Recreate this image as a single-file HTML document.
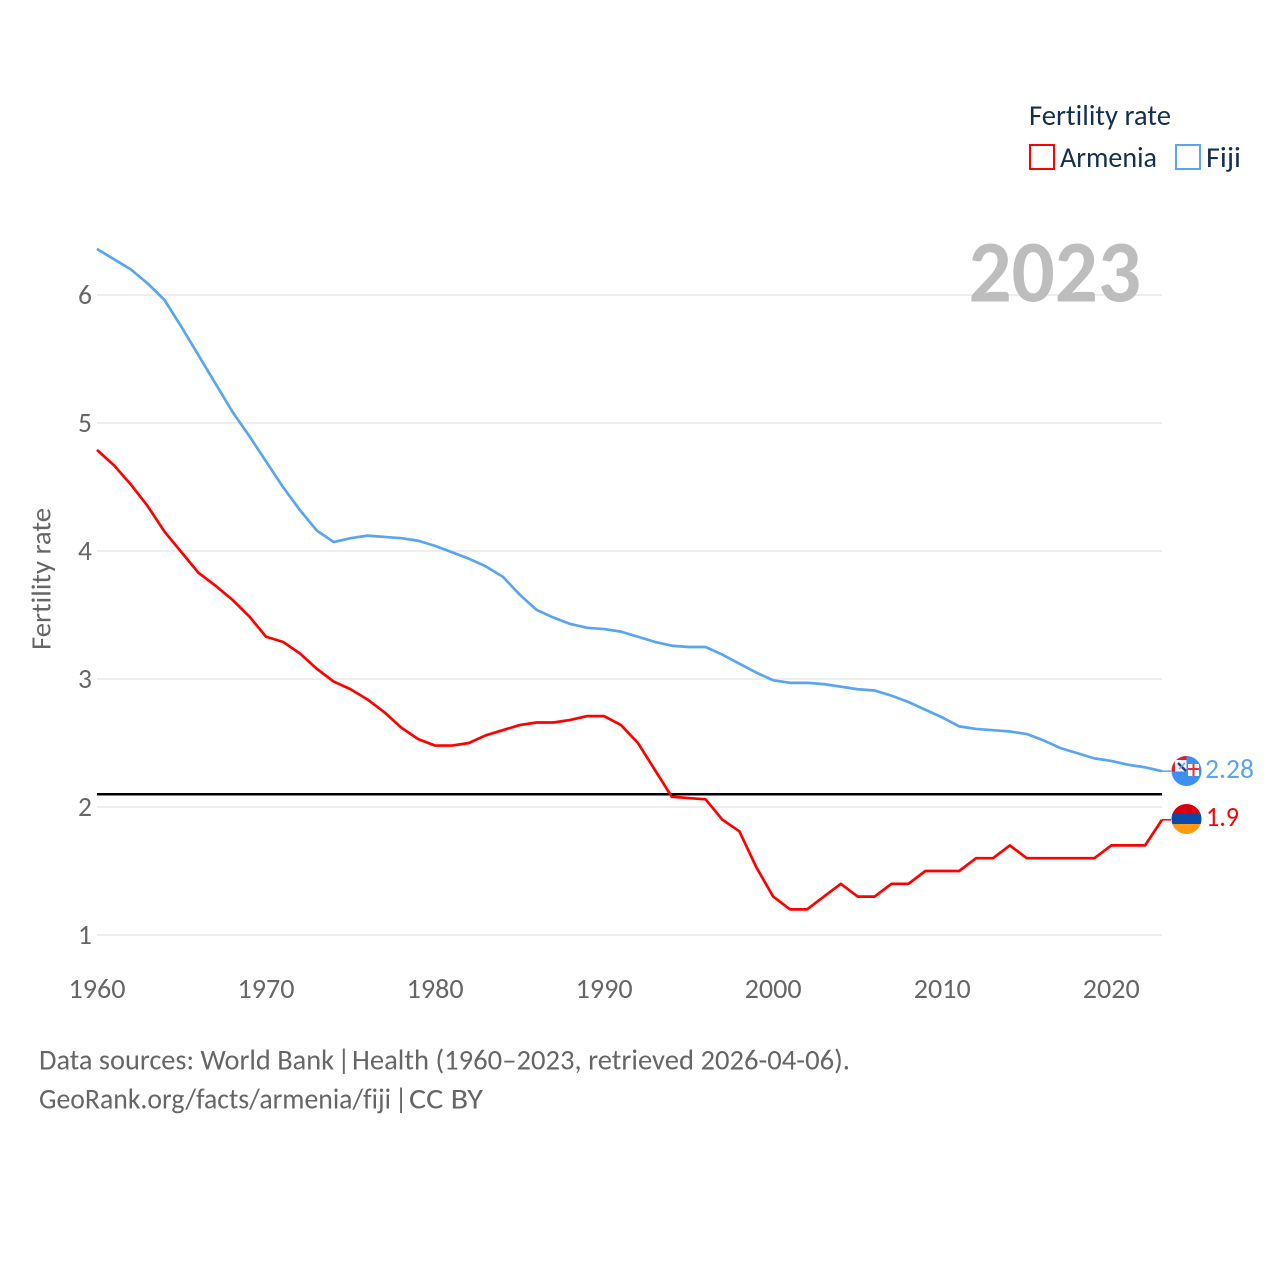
<!DOCTYPE html>
<html lang="en">
<head>
<meta charset="utf-8">
<title>Fertility rate: Armenia and Fiji</title>
<style>
html,body{margin:0;padding:0;background:#fff;width:1280px;height:1280px;overflow:hidden}
svg{display:block}
text{font-family:"Carlito","Liberation Sans",sans-serif;font-variant-ligatures:none}
</style>
</head>
<body>
<svg id="chart" xmlns="http://www.w3.org/2000/svg" width="1280" height="1280" viewBox="0 0 1280 1280">
  <rect width="1280" height="1280" fill="#fff"/>
  <g id="grid"></g>
  <text x="968.500" y="301.500" font-size="88" font-weight="700" fill="#bdbdbd" textLength="172.500" lengthAdjust="spacingAndGlyphs">2023</text>
  <g id="yticks"></g>
  <g id="xticks"></g>
  <text transform="translate(50.500,650) rotate(-90)" font-size="28" fill="#666" textLength="142" lengthAdjust="spacingAndGlyphs">Fertility rate</text>
  <g id="series"></g>

  <g>
    <text x="1029" y="125" font-size="28.500" fill="#15304f" textLength="142" lengthAdjust="spacingAndGlyphs">Fertility rate</text>
    <g>
      <rect x="1030" y="145" width="24" height="24" fill="#fff" stroke="#ff0000" stroke-width="2"/>
      <text x="1060" y="167" font-size="28.500" fill="#15304f" textLength="97" lengthAdjust="spacingAndGlyphs">Armenia</text>
    </g>
    <g>
      <rect x="1176" y="145" width="24" height="24" fill="#fff" stroke="#5aa5f0" stroke-width="2"/>
      <text x="1206" y="167" font-size="28.500" fill="#15304f" textLength="35" lengthAdjust="spacingAndGlyphs">Fiji</text>
    </g>
  </g>

  <defs>
    <clipPath id="fiji-clip"><circle cx="1186.5" cy="771" r="15"/></clipPath>
    <clipPath id="armenia-clip"><circle cx="1186.5" cy="819" r="15"/></clipPath>
  </defs>

  <g clip-path="url(#fiji-clip)">
    <rect x="1171" y="756" width="31" height="31" fill="#3d8ff2"/>
    <rect x="1171" y="756" width="15.500" height="15.500" fill="#d8202f"/>
    <rect x="1175" y="760" width="11.500" height="11.500" fill="#f4f4f6"/>
    <path d="M1178 763l8 8" stroke="#24408a" stroke-width="2.500" fill="none"/>
    <path d="M1185 763l-6 6" stroke="#8a9cc8" stroke-width="1.500" fill="none"/>
    <rect x="1188" y="764" width="11" height="12" fill="#fff"/>
    <path d="M1193.500 764v12M1188 769h11" stroke="#e0323c" stroke-width="2" fill="none"/>
  </g>
  <g clip-path="url(#armenia-clip)">
    <rect x="1171" y="804" width="31" height="11" fill="#d90012"/>
    <rect x="1171" y="814" width="31" height="11" fill="#0b4aa8"/>
    <rect x="1171" y="824" width="31" height="11" fill="#ff9a10"/>
  </g>
  <g id="endlabels"></g>

  <g font-size="28.500" fill="#666">
    <text x="39" y="1069.500" textLength="295" lengthAdjust="spacingAndGlyphs">Data sources: World Bank</text>
    <text x="337.200" y="1069.500">|</text>
    <text x="352" y="1069.500" textLength="498" lengthAdjust="spacingAndGlyphs">Health (1960–2023, retrieved 2026-04-06).</text>
  </g>
  <g font-size="28.500" fill="#666">
    <text x="39" y="1108.500" textLength="352" lengthAdjust="spacingAndGlyphs">GeoRank.org/facts/armenia/fiji</text>
    <text x="394.500" y="1108.500">|</text>
    <text x="409" y="1108.500" textLength="74" lengthAdjust="spacingAndGlyphs">CC BY</text>
  </g>
</svg>

<script>
const years = [1960,1961,1962,1963,1964,1965,1966,1967,1968,1969,1970,1971,1972,1973,1974,1975,1976,1977,1978,1979,1980,1981,1982,1983,1984,1985,1986,1987,1988,1989,1990,1991,1992,1993,1994,1995,1996,1997,1998,1999,2000,2001,2002,2003,2004,2005,2006,2007,2008,2009,2010,2011,2012,2013,2014,2015,2016,2017,2018,2019,2020,2021,2022,2023];
const armeniaValues = [4.79,4.67,4.52,4.35,4.15,3.99,3.83,3.73,3.62,3.49,3.33,3.29,3.20,3.08,2.98,2.92,2.84,2.74,2.62,2.53,2.48,2.48,2.50,2.56,2.60,2.64,2.66,2.66,2.68,2.71,2.71,2.64,2.50,2.29,2.08,2.07,2.06,1.90,1.81,1.53,1.30,1.20,1.20,1.30,1.40,1.30,1.30,1.40,1.40,1.50,1.50,1.50,1.60,1.60,1.70,1.60,1.60,1.60,1.60,1.60,1.70,1.70,1.70,1.90];
const fijiValues = [6.36,6.28,6.20,6.09,5.96,5.75,5.53,5.31,5.09,4.90,4.70,4.50,4.32,4.16,4.07,4.10,4.12,4.11,4.10,4.08,4.04,3.99,3.94,3.88,3.80,3.66,3.54,3.48,3.43,3.40,3.39,3.37,3.33,3.29,3.26,3.25,3.25,3.19,3.12,3.05,2.99,2.97,2.97,2.96,2.94,2.92,2.91,2.87,2.82,2.76,2.70,2.63,2.61,2.60,2.59,2.57,2.52,2.46,2.42,2.38,2.36,2.33,2.31,2.28];
const referenceValue = 2.1;
const yTickValues = [1,2,3,4,5,6];
const xTickValues = [1960,1970,1980,1990,2000,2010,2020];

const NS = 'http://www.w3.org/2000/svg';
const X0 = 97, X1 = 1162, Y_ONE = 935, Y_PER_UNIT = 128;
const firstYear = years[0], lastYear = years[years.length - 1];
function xScale(year) { return X0 + (year - firstYear) * (X1 - X0) / (lastYear - firstYear); }
function yScale(value) { return Y_ONE - (value - 1) * Y_PER_UNIT; }
function svgEl(tag, attrs) {
  const el = document.createElementNS(NS, tag);
  for (const k in attrs) el.setAttribute(k, attrs[k]);
  return el;
}

const grid = document.getElementById('grid');
const yTicks = document.getElementById('yticks');
const xTicks = document.getElementById('xticks');
const series = document.getElementById('series');
const endLabels = document.getElementById('endlabels');

yTickValues.forEach(function (v) {
  const line = svgEl('line', {x1: X0, x2: X1, y1: yScale(v), y2: yScale(v), stroke: '#e9e9e9', 'stroke-width': 1.5});
  
  
  grid.appendChild(line);
  const label = svgEl('text', {x: 92, y: yScale(v) + 9, 'text-anchor': 'end', 'font-size': 27.5, fill: '#666'});
  
  
  label.textContent = v;
  yTicks.appendChild(label);
});

xTickValues.forEach(function (year) {
  const label = svgEl('text', {x: xScale(year) - 28.5, y: 998, 'font-size': 27.5, fill: '#666', textLength: 57, lengthAdjust: 'spacingAndGlyphs'});
  
  
  label.textContent = year;
  xTicks.appendChild(label);
});

function linePath(values) {
  return values.map(function (v, i) {
    return (i ? 'L' : 'M') + xScale(years[i]).toFixed(2) + ' ' + yScale(v).toFixed(2);
  }).join('');
}

const refLine = svgEl('line', {x1: X0, x2: X1, y1: yScale(referenceValue), y2: yScale(referenceValue), stroke: '#000', 'stroke-width': 2.5});


series.appendChild(refLine);

const fijiLine = svgEl('path', {d: linePath(fijiValues), fill: 'none', stroke: '#5aa5f0', 'stroke-width': 2.7, 'stroke-linejoin': 'round'});


series.appendChild(fijiLine);

const armeniaLine = svgEl('path', {d: linePath(armeniaValues), fill: 'none', stroke: '#ff0000', 'stroke-width': 2.7, 'stroke-linejoin': 'round'});


series.appendChild(armeniaLine);

const fijiLast = fijiValues[fijiValues.length - 1];
const armeniaLast = armeniaValues[armeniaValues.length - 1];

const fijiLeader = svgEl('line', {x1: X1, x2: 1171, y1: yScale(fijiLast), y2: yScale(fijiLast), stroke: '#5aa5f0', 'stroke-width': 1.5});


endLabels.appendChild(fijiLeader);

const armeniaLeader = svgEl('line', {x1: X1, x2: 1171, y1: yScale(armeniaLast), y2: yScale(armeniaLast), stroke: '#ff0000', 'stroke-width': 1.5});


endLabels.appendChild(armeniaLeader);

const fijiEnd = svgEl('text', {x: 1205, y: yScale(fijiLast) + 7, 'font-size': 28, fill: '#5aa5f0', textLength: 49, lengthAdjust: 'spacingAndGlyphs'});


fijiEnd.textContent = fijiLast;
endLabels.appendChild(fijiEnd);

const armeniaEnd = svgEl('text', {x: 1206, y: yScale(armeniaLast) + 6, 'font-size': 28, fill: '#ff0000', textLength: 33, lengthAdjust: 'spacingAndGlyphs'});


armeniaEnd.textContent = armeniaLast;
endLabels.appendChild(armeniaEnd);
</script>
</body>
</html>
